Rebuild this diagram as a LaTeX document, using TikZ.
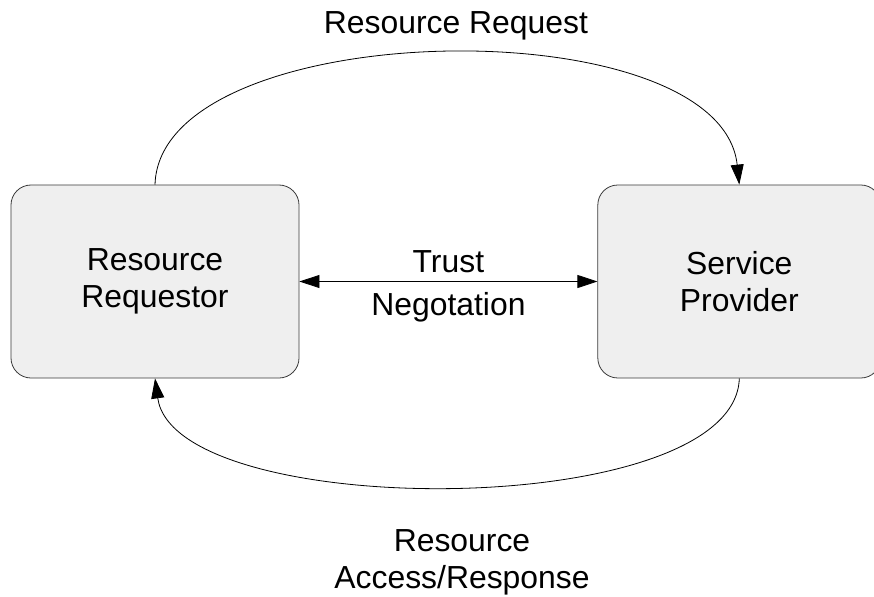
\documentclass[tikz,border=0pt]{standalone}
\usepackage{fontspec}
\setmainfont{Liberation Sans}
\usepackage{tikz}
\usetikzlibrary{arrows.meta, positioning, calc}

\definecolor{boxfill}{HTML}{EFEFEF}
\definecolor{boxline}{HTML}{3A3A3A}
\newcommand{\lblfont}{\fontsize{32}{37}\selectfont}

\begin{document}
\begin{tikzpicture}[x=1bp, y=-1bp, line width=0.8bp,
  every node/.style={font=\lblfont, align=center},
  box/.style={rectangle, draw=boxline, fill=boxfill, rounded corners=20bp, minimum width=288bp, minimum height=193bp},
  >={Triangle[length=20bp, width=13bp]}]

\useasboundingbox (0,0) rectangle (874,597);

% Entidades
\node[box] (requestor) at (155,281.5) {Resource\\[-0.5bp]Requestor};
\node[box, minimum width=283bp, right=298bp of requestor] (provider) {Service\\[-0.5bp]Provider};

% Negociacion de confianza
\draw[<->] (requestor.east) -- (provider.west)
  node[midway, above=6bp, inner sep=2bp] (trust) {Trust}
  node[midway, below=8bp, inner sep=2bp] (negot) {Negotation};

% Peticion y respuesta
\draw[->] (requestor.north) .. controls (160,15) and (720,5) .. (provider.north);
\draw[->] (provider.south) .. controls (735,522) and (175,522) .. (requestor.south);

% Etiquetas
\node (reqlbl) at (456,26) {Resource Request};
\node (resplbl) at (462,562) {Resource\\Access/Response};

\end{tikzpicture}
\end{document}
